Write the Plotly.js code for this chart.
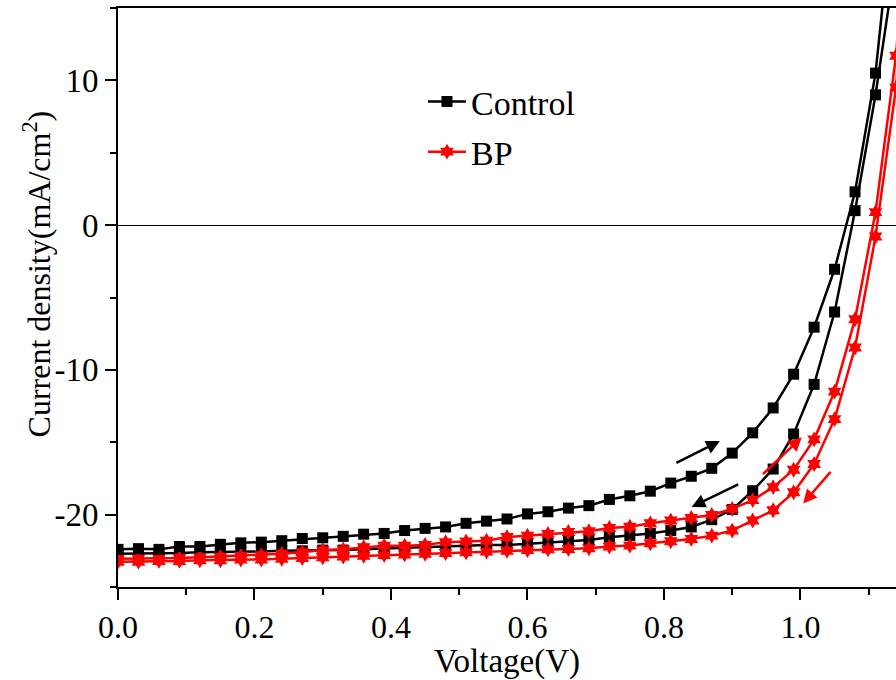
<!DOCTYPE html>
<html>
<head>
<meta charset="utf-8">
<script src="https://cdn.plot.ly/plotly-3.0.1.min.js"></script>
<style>html,body{margin:0;padding:0;background:#fff;}#chart{width:896px;height:680px;}</style>
</head>
<body>
<div id="chart"></div>
<script>
// Voltage (V)
const voltage = [0.00,0.03,0.06,0.09,0.12,0.15,0.18,0.21,0.24,0.27,0.30,0.33,0.36,0.39,0.42,0.45,0.48,0.51,0.54,0.57,0.60,0.63,0.66,0.69,0.72,0.75,0.78,0.81,0.84,0.87,0.90,0.93,0.96,0.99,1.02,1.05,1.08,1.11,1.14,1.17];
// Current density (mA/cm2)
const controlForward = [-22.4,-22.35,-22.4,-22.2,-22.2,-22.05,-21.95,-21.9,-21.8,-21.65,-21.6,-21.5,-21.35,-21.3,-21.1,-20.95,-20.85,-20.6,-20.45,-20.3,-19.95,-19.8,-19.55,-19.38,-18.95,-18.7,-18.38,-17.82,-17.35,-16.8,-15.75,-14.35,-12.63,-10.3,-7.05,-3.05,2.3,10.5,24.0,40];
const controlReverse = [-22.7,-22.7,-22.65,-22.65,-22.6,-22.6,-22.55,-22.55,-22.5,-22.5,-22.45,-22.45,-22.4,-22.35,-22.35,-22.3,-22.25,-22.2,-22.1,-22.1,-22.0,-21.95,-21.85,-21.75,-21.56,-21.45,-21.3,-21.1,-20.85,-20.35,-19.65,-18.35,-16.85,-14.43,-11.0,-6.0,1.0,9.0,18.5,32];
const bpForward = [-23.05,-23.05,-23.0,-23.0,-22.95,-22.9,-22.85,-22.8,-22.7,-22.6,-22.45,-22.4,-22.25,-22.15,-22.15,-22.1,-21.9,-21.85,-21.8,-21.55,-21.45,-21.33,-21.2,-21.15,-20.92,-20.83,-20.6,-20.41,-20.23,-20.02,-19.6,-19.0,-18.1,-16.9,-14.8,-11.5,-6.5,0.9,11.7,30];
const bpReverse = [-23.25,-23.25,-23.2,-23.2,-23.15,-23.15,-23.1,-23.1,-23.05,-23.0,-22.95,-22.9,-22.85,-22.8,-22.75,-22.7,-22.65,-22.6,-22.55,-22.5,-22.45,-22.4,-22.37,-22.32,-22.2,-22.14,-21.98,-21.84,-21.68,-21.45,-21.1,-20.4,-19.7,-18.46,-16.5,-13.4,-8.46,-0.78,9.5,28];

const seriesNames = ["Control", "BP"];
const xTickVals = [0.0, 0.2, 0.4, 0.6, 0.8, 1.0];
const xTickText = ["0.0", "0.2", "0.4", "0.6", "0.8", "1.0"];
const yTickVals = [-20, -10, 0, 10];
const yTickText = ["-20", "-10", "0", "10"];
const xTitle = "Voltage(V)";
const yTitle = "Current density(mA/cm<sup>2</sup>)";

const FONT = "Liberation Serif, Times New Roman, serif";

const blackStyle = {mode: "lines+markers", line: {color: "#000", width: 2.5}, marker: {symbol: "square", size: 11, color: "#000"}};
const redStyle = {mode: "lines+markers", line: {color: "#ff0000", width: 2.5}, marker: {symbol: "hexagram", size: 12, color: "#ff0000"}};

const traces = [
  Object.assign({x: voltage, y: controlReverse, name: seriesNames[0], showlegend: false, legendgroup: "a"}, blackStyle),
  Object.assign({x: voltage, y: bpReverse, name: seriesNames[1], showlegend: false, legendgroup: "b"}, redStyle),
  Object.assign({x: voltage, y: bpForward, name: seriesNames[1], showlegend: true, legendgroup: "b", legendrank: 2}, redStyle),
  Object.assign({x: voltage, y: controlForward, name: seriesNames[0], showlegend: true, legendgroup: "a", legendrank: 1}, blackStyle)
];

function arrow(x, y, ax, ay, color) {
  return {x: x, y: y, ax: ax, ay: ay, xref: "x", yref: "y", axref: "x", ayref: "y",
          text: "", showarrow: true, arrowhead: 2, arrowsize: 1.1, arrowwidth: 2.5, arrowcolor: color};
}

const layout = {
  width: 896, height: 680,
  margin: {l: 118, r: 0, t: 8, b: 93},
  paper_bgcolor: "#fff", plot_bgcolor: "#fff",
  font: {family: FONT, color: "#000", size: 30},
  showlegend: true,
  legend: {x: 0.392, y: 0.888, xanchor: "left", yanchor: "top", bgcolor: "rgba(0,0,0,0)",
           font: {family: FONT, size: 34, color: "#000"}, tracegroupgap: 3, traceorder: "grouped", itemwidth: 38},
  xaxis: {
    range: [0, 1.14], showgrid: false, zeroline: false,
    showline: true, linecolor: "#000", linewidth: 2, mirror: true,
    ticks: "outside", ticklen: 11, tickwidth: 2, tickcolor: "#000",
    tickmode: "array", tickvals: xTickVals, ticktext: xTickText,
    minor: {dtick: 0.1, ticks: "outside", ticklen: 6, tickwidth: 2, tickcolor: "#000", showgrid: false},
    tickfont: {family: FONT, size: 32, color: "#000"},
    title: {text: xTitle, font: {family: FONT, size: 33, color: "#000"}, standoff: 7}
  },
  yaxis: {
    range: [-25, 15], showgrid: false,
    zeroline: true, zerolinecolor: "#000", zerolinewidth: 1.2,
    showline: true, linecolor: "#000", linewidth: 2, mirror: false,
    ticks: "outside", ticklen: 11, tickwidth: 2, tickcolor: "#000",
    tickmode: "array", tickvals: yTickVals, ticktext: yTickText,
    minor: {dtick: 5, ticks: "outside", ticklen: 6, tickwidth: 2, tickcolor: "#000", showgrid: false},
    tickfont: {family: FONT, size: 33, color: "#000"}
  },
  annotations: [
    {text: yTitle, xref: "paper", yref: "paper", x: -0.104, y: 0.54, xanchor: "center", yanchor: "middle",
     textangle: -90, showarrow: false, font: {family: FONT, size: 32, color: "#000"}},
    arrow(0.882, -14.92, 0.816, -16.48, "#000"),
    arrow(0.8405, -19.47, 0.911, -17.86, "#000"),
    arrow(1.002, -14.65, 0.943, -17.29, "#ff0000"),
    arrow(1.004, -19.23, 1.046, -16.94, "#ff0000")
  ]
};

Plotly.newPlot("chart", traces, layout, {displayModeBar: false, staticPlot: true});
</script>
</body>
</html>
